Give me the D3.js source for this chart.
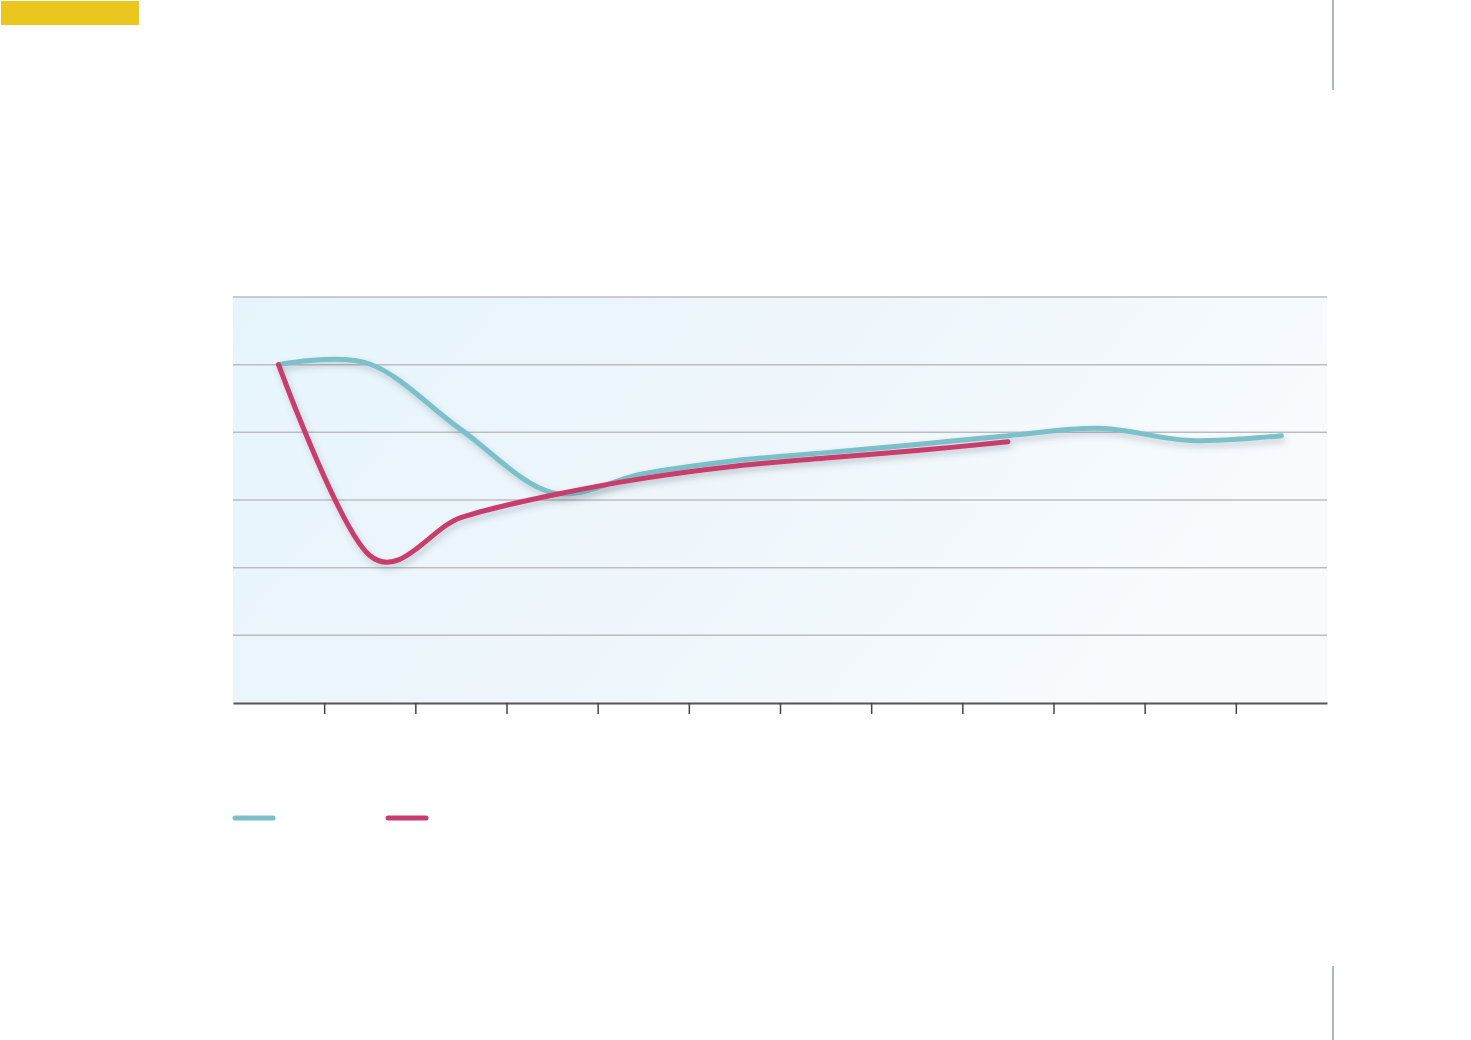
<!DOCTYPE html>
<html>
<head>
<meta charset="utf-8">
<script src="https://cdn.jsdelivr.net/npm/d3@7"></script>
<style>
  html, body { margin: 0; padding: 0; background: #ffffff; }
  svg { display: block; }
</style>
</head>
<body>
<svg id="chart" width="1471" height="1040"></svg>
<script>
// ---- data ----
const categories = ["1","2","3","4","5","6","7","8","9","10","11","12"];
const seriesA = [5.0, 5.01, 4.04, 3.11, 3.39, 3.58, 3.70, 3.82, 3.95, 4.06, 3.88, 3.95];
const seriesB = [5.0, 2.18, 2.74, 3.07, 3.32, 3.50, 3.62, 3.73, 3.86];
const yTicks = [1, 2, 3, 4, 5, 6];

// ---- layout ----
const plotL = 233, plotR = 1327, plotT = 297, plotB = 703;
const svg = d3.select("#chart");

const x = d3.scaleLinear().domain([0, categories.length]).range([plotL, plotR]);
const y = d3.scaleLinear().domain([0, 6]).range([plotB, plotT]);

const defs = svg.append("defs");
const grad = defs.append("linearGradient").attr("id", "bg")
  .attr("x1", "0").attr("y1", "0").attr("x2", "1").attr("y2", "0.3");
grad.append("stop").attr("offset", "0").attr("stop-color", "#e6f5fd");
grad.append("stop").attr("offset", "0.5").attr("stop-color", "#eef6fb");
grad.append("stop").attr("offset", "1").attr("stop-color", "#f7fbfe");

const f = defs.append("filter").attr("id", "shadow")
  .attr("x", "-10%").attr("y", "-20%").attr("width", "120%").attr("height", "140%");
f.append("feDropShadow").attr("dx", 2).attr("dy", 4).attr("stdDeviation", 3)
  .attr("flood-color", "#4a5a6a").attr("flood-opacity", 0.28);

// yellow tab
svg.append("rect").attr("x", 1).attr("y", 1).attr("width", 138).attr("height", 24).attr("fill", "#ebc61f");

// right vertical rules
svg.append("line").attr("x1", 1333).attr("x2", 1333).attr("y1", 0).attr("y2", 90)
  .attr("stroke", "#b2b6bd").attr("stroke-width", 2);
svg.append("line").attr("x1", 1333).attr("x2", 1333).attr("y1", 966).attr("y2", 1040)
  .attr("stroke", "#b2b6bd").attr("stroke-width", 2);

// plot background
svg.append("rect").attr("x", plotL).attr("y", plotT).attr("width", plotR - plotL).attr("height", plotB - plotT)
  .attr("fill", "url(#bg)");

// gridlines
svg.append("g").selectAll("line").data(yTicks).join("line")
  .attr("x1", plotL).attr("x2", plotR)
  .attr("y1", d => y(d)).attr("y2", d => y(d))
  .attr("stroke", "#bcbcc0").attr("stroke-width", 1.5);

// x axis
const xAxis = d3.axisBottom(x)
  .tickValues(d3.range(1, categories.length))
  .tickSize(11).tickSizeOuter(0).tickFormat("");
const gx = svg.append("g").attr("transform", `translate(0,${plotB})`).call(xAxis);
gx.select(".domain").attr("stroke", "#555").attr("stroke-width", 2);
gx.selectAll(".tick line").attr("stroke", "#444").attr("stroke-width", 1.5);

// lines
const line = d3.line()
  .x((d, i) => x(i + 0.5))
  .y(d => y(d))
  .curve(d3.curveCatmullRom.alpha(0));

svg.append("path").datum(seriesA)
  .attr("d", line).attr("fill", "none")
  .attr("stroke", "#7bc0c9").attr("stroke-width", 5)
  .attr("stroke-linecap", "round").attr("stroke-linejoin", "round")
  .attr("filter", "url(#shadow)");

svg.append("path").datum(seriesB)
  .attr("d", line).attr("fill", "none")
  .attr("stroke", "#c93c6d").attr("stroke-width", 5)
  .attr("stroke-linecap", "round").attr("stroke-linejoin", "round")
  .attr("filter", "url(#shadow)");

// legend
const legend = [{c: "#7bc0c9", x: 235}, {c: "#c93c6d", x: 388}];
svg.append("g").selectAll("line").data(legend).join("line")
  .attr("x1", d => d.x).attr("x2", d => d.x + 38)
  .attr("y1", 818).attr("y2", 818)
  .attr("stroke", d => d.c).attr("stroke-width", 5).attr("stroke-linecap", "round");
</script>
</body>
</html>
